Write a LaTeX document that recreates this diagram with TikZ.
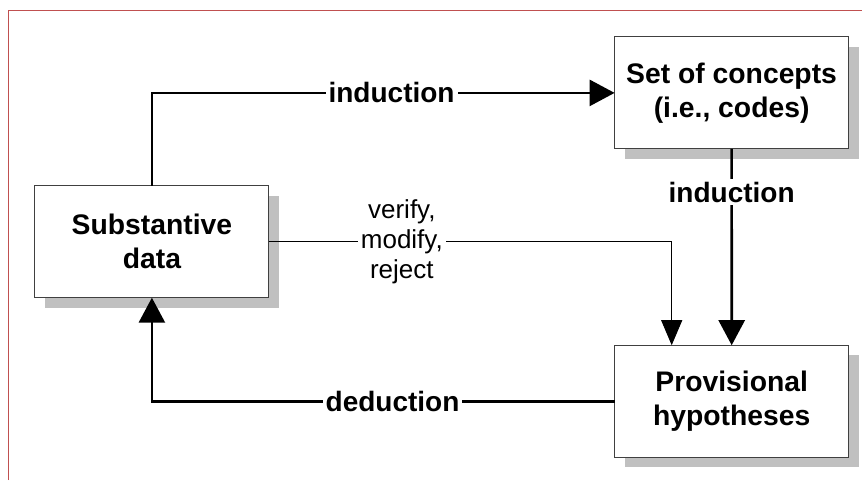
\documentclass[tikz,border=0pt]{standalone}
\usepackage{fontspec}
\setmainfont{Liberation Sans}
\usetikzlibrary{arrows.meta,shadows}

\definecolor{frame}{RGB}{192,80,80}
\definecolor{boxline}{RGB}{64,64,64}
\definecolor{shade}{RGB}{192,192,192}

\tikzset{
  box/.style={draw=boxline, line width=1pt, fill=white, inner sep=0pt, outer sep=0pt,
    minimum width=234pt, minimum height=112pt, align=center,
    font=\bfseries\fontsize{28.3}{34}\selectfont,
    general shadow={fill=shade, shadow xshift=10pt, shadow yshift=-10pt}},
  strong/.style={line width=2.7pt, -{Triangle[length=25pt,width=26pt]}},
  weak/.style={line width=1pt, -{Triangle[length=25pt,width=21pt]}},
  tag/.style={fill=white, inner sep=3pt, font=\bfseries\fontsize{28}{34}\selectfont},
  note/.style={fill=white, inner sep=3pt, align=center, font=\fontsize{26}{30}\selectfont}
}

\begin{document}
\begin{tikzpicture}[x=1pt, y=-1pt]
  \useasboundingbox (0,0) rectangle (862,480);
  \fill[white] (0,0) rectangle (862,480);

  % outer frame (only top and left edges fall inside the page)
  \draw[frame, line width=1.3pt] (8.5,480) -- (8.5,10.5) -- (862,10.5);

  % boxes
  \node[box] (sub)  at (151.9,241.7) {Substantive\\data};
  \node[box] (set)  at (731.6,92.9)  {Set of concepts\\(i.e., codes)};
  \node[box] (prov) at (731.7,401.2) {Provisional\\hypotheses};

  % connectors
  \draw[strong] (sub.north) |- node[tag, pos=0.759] {induction} (set.west);
  \draw[strong] (set.south) -- node[tag, pos=0.22] {induction} (prov.north);
  \draw[strong] (prov.west) -| node[tag, pos=0.24] {deduction} (sub.south);
  \draw[weak] (sub.east) -| node[note, pos=0.165] {verify,\\modify,\\reject}
    ([xshift=57pt]prov.north west);
\end{tikzpicture}
\end{document}
